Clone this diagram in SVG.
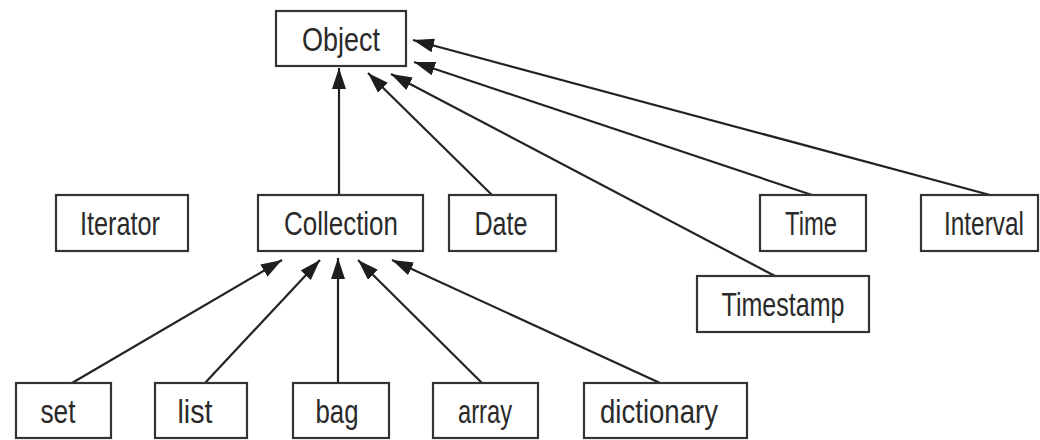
<svg xmlns="http://www.w3.org/2000/svg" width="1040" height="440" viewBox="0 0 1040 440">
  <defs>
    <style>
      .box { fill: #ffffff; stroke: #333333; stroke-width: 2.2; }
      .lbl { font-family: "Liberation Sans", Arial, sans-serif; font-size: 33px; fill: #2a2a2a; text-anchor: middle; }
      .edge { stroke: #232323; stroke-width: 2.2; fill: none; marker-end: url(#head); }
    </style>
    <marker id="head" markerUnits="userSpaceOnUse" markerWidth="22" markerHeight="14" refX="21" refY="7" orient="auto">
      <path d="M0,0 L21,7 L0,14 Z" fill="#1e1e1e"/>
    </marker>
  </defs>
  <rect width="1040" height="440" fill="#ffffff"/>

  <!-- inheritance edges: child -> parent -->
  <g id="connectors">
    <line class="edge" x1="339" y1="195" x2="339" y2="68"/>
    <line class="edge" x1="492" y1="195" x2="368" y2="73"/>
    <line class="edge" x1="775" y1="276" x2="391" y2="74"/>
    <line class="edge" x1="812" y1="195" x2="414" y2="62"/>
    <line class="edge" x1="990" y1="195" x2="413" y2="40"/>
    <line class="edge" x1="72" y1="383" x2="282" y2="260"/>
    <line class="edge" x1="205" y1="383" x2="320" y2="260"/>
    <line class="edge" x1="338" y1="383" x2="338" y2="258"/>
    <line class="edge" x1="482" y1="383" x2="358" y2="260"/>
    <line class="edge" x1="660" y1="383" x2="392" y2="260"/>
  </g>

  <g id="object">
    <rect class="box" x="276" y="11" width="130" height="55"/>
    <text class="lbl" x="341" y="51" textLength="78" lengthAdjust="spacingAndGlyphs">Object</text>
  </g>
  <g id="iterator">
    <rect class="box" x="56" y="195" width="132" height="56"/>
    <text class="lbl" x="120" y="235" textLength="80" lengthAdjust="spacingAndGlyphs">Iterator</text>
  </g>
  <g id="collection">
    <rect class="box" x="258" y="195" width="165" height="56"/>
    <text class="lbl" x="341" y="235" textLength="114" lengthAdjust="spacingAndGlyphs">Collection</text>
  </g>
  <g id="date">
    <rect class="box" x="449" y="195" width="107" height="56"/>
    <text class="lbl" x="501" y="235" textLength="53" lengthAdjust="spacingAndGlyphs">Date</text>
  </g>
  <g id="time">
    <rect class="box" x="760" y="195" width="106" height="56"/>
    <text class="lbl" x="811" y="235" textLength="52" lengthAdjust="spacingAndGlyphs">Time</text>
  </g>
  <g id="interval">
    <rect class="box" x="921" y="195" width="117" height="56"/>
    <!-- narrowed with a horizontal scale so its box stays tight -->
    <text class="lbl" transform="translate(984,235) scale(0.74,1)">Interval</text>
  </g>
  <g id="timestamp">
    <rect class="box" x="697" y="276" width="172" height="56"/>
    <text class="lbl" x="783" y="316" textLength="123" lengthAdjust="spacingAndGlyphs">Timestamp</text>
  </g>
  <g id="set">
    <rect class="box" x="16" y="383" width="95" height="55"/>
    <text class="lbl" x="58" y="423" textLength="35" lengthAdjust="spacingAndGlyphs">set</text>
  </g>
  <g id="list">
    <rect class="box" x="155" y="383" width="92" height="55"/>
    <text class="lbl" x="195" y="423" textLength="35" lengthAdjust="spacingAndGlyphs">list</text>
  </g>
  <g id="bag">
    <rect class="box" x="293" y="383" width="96" height="55"/>
    <text class="lbl" x="337" y="423" textLength="43" lengthAdjust="spacingAndGlyphs">bag</text>
  </g>
  <g id="array">
    <rect class="box" x="433" y="383" width="105" height="55"/>
    <text class="lbl" x="485" y="423" textLength="54" lengthAdjust="spacingAndGlyphs">array</text>
  </g>
  <g id="dictionary">
    <rect class="box" x="584" y="383" width="163" height="55"/>
    <text class="lbl" x="659" y="423" textLength="118" lengthAdjust="spacingAndGlyphs">dictionary</text>
  </g>
</svg>
